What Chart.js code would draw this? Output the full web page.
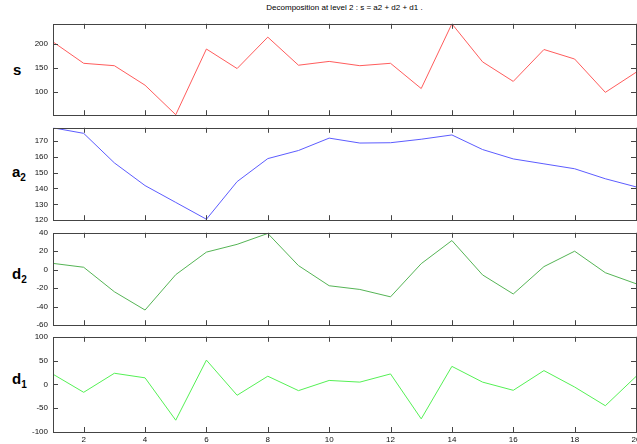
<!DOCTYPE html>
<html>
<head>
<meta charset="utf-8">
<script src="https://cdn.jsdelivr.net/npm/chart.js@4/dist/chart.umd.min.js"></script>
<style>
html, body { margin: 0; padding: 0; background: #fff; overflow: hidden; width: 637px; height: 444px; position: relative; font-family: "Liberation Sans", Arial, sans-serif; }
canvas { position: absolute; left: 0; }
.lbl { position: absolute; font-weight: bold; font-size: 15px; color: #000; line-height: 15px; }
.lbl sub { font-size: 10px; }
#title { position: absolute; top: 3px; left: 53px; width: 583px; text-align: center; font-size: 8px; color: #000; }
</style>
</head>
<body>
<div id="title">Decomposition at level 2 : s = a2 + d2 + d1 .</div>
<div class="lbl" style="left:13px;top:62px">s</div>
<div class="lbl" style="left:12px;top:164px">a<sub>2</sub></div>
<div class="lbl" style="left:12px;top:266px">d<sub>2</sub></div>
<div class="lbl" style="left:12px;top:371px">d<sub>1</sub></div>

<canvas id="c1" width="660" height="111" style="top:14px;width:660px;height:111px"></canvas>
<canvas id="c2" width="660" height="112" style="top:118px;width:660px;height:112px"></canvas>
<canvas id="c3" width="660" height="112" style="top:223px;width:660px;height:112px"></canvas>
<canvas id="c4" width="660" height="117" style="top:327px;width:660px;height:117px"></canvas>

<script>
'use strict';

/*** DATA ***/

var xs = [1, 2, 3, 4, 5, 6, 7, 8, 9, 10, 11, 12, 13, 14, 15, 16, 17, 18, 19, 20];
var sValues = [205, 160, 155, 114, 52, 190, 149, 215, 156, 164, 155, 160, 107, 243, 163, 122, 189, 169, 99, 141];
var a2Values = [178.2, 174.7, 156.1, 141.8, 131.2, 120.6, 144.3, 158.8, 163.9, 171.7, 168.6, 168.8, 171, 173.7, 164.5, 158.6, 155.5, 152.4, 146.1, 141];
var d2Values = [6.9, 2.7, -23.8, -43.6, -5.3, 19.1, 27.5, 39.3, 4.5, -17.3, -21.3, -29.3, 6.6, 31.6, -5.6, -26.2, 3.4, 20.1, -3.2, -15.1];
var d1Values = [21.4, -16.6, 23.4, 13.8, -75.2, 51, -22.8, 17.2, -13.1, 8.3, 4.8, 22, -72.4, 37.9, 4.8, -12.4, 29, -5.5, -44.8, 16.6];

var xTicks = [2, 4, 6, 8, 10, 12, 14, 16, 18, 20];
var sTicks = [100, 150, 200];
var a2Ticks = [120, 130, 140, 150, 160, 170];
var d2Ticks = [-60, -40, -20, 0, 20, 40];
var d1Ticks = [-100, -50, 0, 50, 100];

var xRange = [1, 20];
var sRange = [51, 243];
var a2Range = [120, 178.2];
var d2Range = [-60, 40];
var d1Range = [-100, 100];

/*** HELPERS ***/

var tickFont = { family: '"Liberation Sans", Arial, sans-serif', size: 8 };

// draws the box round the plot and the little inward ticks on every side
var boxTicks = {
  id: 'boxTicks',
  afterDraw: function(chart) {
    var ctx = chart.ctx;
    var a = chart.chartArea;
    var xs_ = chart.scales.x;
    var ys_ = chart.scales.y;
    var len = 5;
    ctx.save();
    ctx.strokeStyle = '#444';
    ctx.lineWidth = 1;
    ctx.strokeRect(Math.round(a.left) + 0.5, Math.round(a.top) + 0.5, Math.round(a.right - a.left), Math.round(a.bottom - a.top));
    ctx.beginPath();
    xs_.ticks.forEach(function(t) {
      var px = Math.round(xs_.getPixelForValue(t.value)) + 0.5;
      ctx.moveTo(px, a.top);
      ctx.lineTo(px, a.top + len);
      ctx.moveTo(px, a.bottom);
      ctx.lineTo(px, a.bottom - len);
    });
    ys_.ticks.forEach(function(t) {
      var py = Math.round(ys_.getPixelForValue(t.value)) + 0.5;
      ctx.moveTo(a.left, py);
      ctx.lineTo(a.left + len, py);
      ctx.moveTo(a.right, py);
      ctx.lineTo(a.right - len, py);
    });
    ctx.stroke();
    ctx.restore();
  }
};

function makePanel(id, values, yTicks, yRange, color, showX) {
  var points = xs.map(function(x, i) { return { x: x, y: values[i] }; });
  return new Chart(document.getElementById(id), {
    type: 'line',
    data: {
      datasets: [{
        data: points,
        borderColor: color,
        borderWidth: 1,
        pointRadius: 0,
        tension: 0,
        fill: false
      }]
    },
    options: {
      responsive: false,
      animation: false,
      layout: { padding: { top: 8, bottom: showX ? 0 : 8, left: 0, right: 24 } },
      plugins: { legend: { display: false }, tooltip: { enabled: false } },
      scales: {
        x: {
          type: 'linear',
          min: xRange[0],
          max: xRange[1],
          display: showX,
          grid: { display: false, drawTicks: false },
          border: { display: false },
          ticks: { font: tickFont, color: '#111', padding: 3, maxRotation: 0, autoSkip: false },
          afterBuildTicks: function(s) { s.ticks = xTicks.map(function(v) { return { value: v }; }); },
          afterFit: function(s) { s.height = showX ? 12 : 0; }
        },
        y: {
          min: yRange[0],
          max: yRange[1],
          grid: { display: false, drawTicks: false },
          border: { display: false },
          ticks: { font: tickFont, color: '#111', padding: 5, autoSkip: false },
          afterBuildTicks: function(s) { s.ticks = yTicks.map(function(v) { return { value: v }; }); },
          afterFit: function(s) { s.width = 53; }
        }
      }
    },
    plugins: [boxTicks]
  });
}

/*** CHARTS ***/

makePanel('c1', sValues, sTicks, sRange, '#ff5c5c', false);
makePanel('c2', a2Values, a2Ticks, a2Range, '#5c5cff', false);
makePanel('c3', d2Values, d2Ticks, d2Range, '#55b455', false);
makePanel('c4', d1Values, d1Ticks, d1Range, '#55f055', true);
</script>
</body>
</html>
